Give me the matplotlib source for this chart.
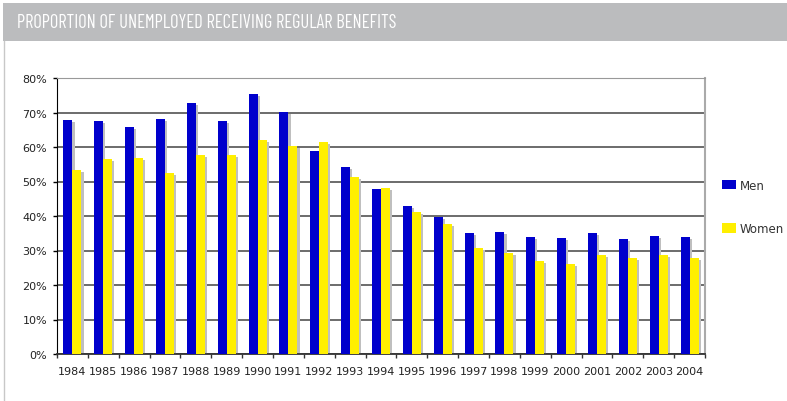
import matplotlib.pyplot as plt
import numpy as np
from matplotlib.patches import Rectangle

years = ['1984', '1985', '1986', '1987', '1988', '1989', '1990', '1991', '1992',
         '1993', '1994', '1995', '1996', '1997', '1998', '1999', '2000', '2001',
         '2002', '2003', '2004']
men = [67.8, 67.5, 65.8, 68.1, 72.8, 67.5, 75.5, 70.1, 58.8, 54.2, 47.8,
       42.9, 39.8, 35.1, 35.4, 33.9, 33.6, 35.1, 33.3, 34.2, 33.9]
women = [53.3, 56.5, 56.8, 52.5, 57.7, 57.7, 62.0, 60.3, 61.4, 51.4, 48.1,
         41.2, 37.7, 30.7, 29.3, 27.0, 26.1, 28.7, 27.8, 28.7, 27.8]
title = 'PROPORTION OF UNEMPLOYED RECEIVING REGULAR BENEFITS'

W, H = 787, 402
fig = plt.figure(figsize=(W / 100, H / 100), dpi=100)
fig.patch.set_facecolor('white')

# grey banner across the top, thin rule down the left side
fig.patches.append(Rectangle((3 / W, 1 - 42 / H), 1, 38 / H, transform=fig.transFigure,
                             facecolor='#bbbcbe', edgecolor='none', zorder=0))
fig.add_artist(plt.Line2D([3.5 / W, 3.5 / W], [0, 1 - 42 / H], transform=fig.transFigure,
                          color='#c8c8c8', lw=1))
fig.text(17 / W, 1 - 23.5 / H, title, color='white', fontsize=13.3,
         family=['Barlow Condensed', 'DejaVu Sans'], va='center', ha='left')

ax = fig.add_axes([57 / W, (H - 355) / H, 648 / W, 276 / H])
x = np.arange(len(years))
bw = 0.29
men_col = '#0000cc'
women_col = '#ffef00'
shadow = '#bfbfbf'
dx, dy = 0.07, 0.6

# drop shadows first, then the bars on top
ax.bar(x - bw / 2 + dx, np.array(men) - dy, bw, color=shadow, zorder=2)
ax.bar(x + bw / 2 + dx, np.array(women) - dy, bw, color=shadow, zorder=2)
ax.bar(x - bw / 2, men, bw, color=men_col, zorder=3, label='Men')
ax.bar(x + bw / 2, women, bw, color=women_col, zorder=3, label='Women')

ax.set_xlim(-0.5, len(years) - 0.5)
ax.set_ylim(0, 80)
ax.set_yticks(np.arange(0, 81, 10))
ax.set_yticklabels([f'{v}%' for v in range(0, 81, 10)])
ax.yaxis.grid(True, color='#606060', lw=1.3, zorder=1)
ax.set_axisbelow(True)

ax.set_xticks(x)
ax.set_xticklabels(years)
ax.set_xticks(np.arange(-0.5, len(years)), minor=True)
ax.tick_params(axis='x', which='major', length=0, pad=9)
ax.tick_params(axis='x', which='minor', length=3, width=1, color='#333333')
ax.tick_params(axis='y', length=3, width=1, pad=4, color='black')
for lab in ax.get_xticklabels() + ax.get_yticklabels():
    lab.set_fontsize(8)
    lab.set_color('#222222')

ax.spines['left'].set_color('black')
ax.spines['bottom'].set_color('#333333')
ax.spines['bottom'].set_linewidth(1.3)
ax.spines['top'].set_color('#999999')
ax.spines['right'].set_color('#aaaaaa')
ax.spines['right'].set_linewidth(1.5)

leg = fig.legend(loc='upper left', bbox_to_anchor=(711 / W, 1 - 169 / H), frameon=False,
                 handlelength=1.25, handleheight=0.9, labelspacing=2.6, handletextpad=0.3,
                 prop={'size': 8.5})
for t in leg.get_texts():
    t.set_color('#333333')

fig.savefig('out.png', dpi=100)
